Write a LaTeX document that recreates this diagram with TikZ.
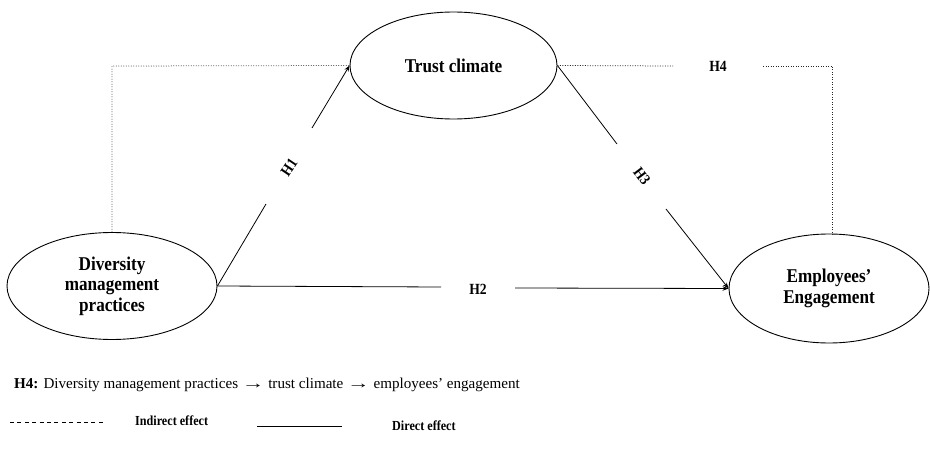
\documentclass[tikz,border=0pt]{standalone}
\usepackage{fontspec}
\setmainfont{Liberation Serif}
\newfontfamily\condfont[FakeStretch=0.88]{Liberation Serif}
\usetikzlibrary{shapes.geometric,arrows.meta}
\newcommand\myarrow{\scalebox{1.5}[1]{→}}
\tikzset{
  construct/.style={draw, ellipse, line width=0.9pt, inner sep=0pt, align=center,
    font=\condfont\bfseries\fontsize{19.5}{20.5}\selectfont},
  hlab/.style={inner sep=0pt, font=\condfont\bfseries\fontsize{15.5}{18}\selectfont},
  leglab/.style={inner sep=0pt, anchor=west, font=\condfont\bfseries\fontsize{13.8}{16}\selectfont},
  direct/.style={line width=0.8pt},
  arr/.style={direct, -{Stealth[length=6pt,width=4.5pt]}},
  indirect/.style={line width=0.75pt, dash pattern=on 0.8pt off 1.7pt, black!85},
}
\begin{document}
\begin{tikzpicture}[x=1pt,y=-1pt]
\useasboundingbox (0,0) rectangle (930,452);
% constructs
\node[construct, minimum width=207pt, minimum height=107pt] (trust) at (453.5,65.5) {Trust climate};
\node[construct, minimum width=210pt, minimum height=107pt] (dmp) at (112,286) {Diversity\\management\\practices};
\node[construct, minimum width=200pt, minimum height=109pt] (eng) at (829,288.5) {Employees’\\Engagement};
% gap coordinates
\coordinate (h1a) at (266,204);
\coordinate (h1b) at (312,128);
\coordinate (h3a) at (617,144);
\coordinate (h3b) at (666,209);
\coordinate (h2a) at (441,287);
\coordinate (h2b) at (515,288);
% labels
\node[hlab, rotate=56] (h1) at (289,167) {H1};
\node[hlab, rotate=-53] (h3) at (642,176) {H3};
\node[hlab] (h2) at (478,289) {H2};
\node[hlab] (h4) at (718,66) {H4};
% direct paths
\draw[direct] (dmp.east) -- (h1a);
\draw[arr] (h1b) -- (trust.west);
\draw[direct] (trust.east) -- (h3a);
\draw[arr] (h3b) -- (eng.west);
\draw[direct] (dmp.east) -- (h2a);
\draw[arr] (h2b) -- (eng.west);
% indirect path
\coordinate (c1) at (112,66);
\coordinate (c2) at (673,66);
\coordinate (c3) at (763,66);
\coordinate (c4) at (832,66);
\coordinate (c5) at (832,235);
\draw[indirect] (dmp.north) -- (c1) -- (trust.west);
\draw[indirect] (trust.east) -- (c2);
\draw[indirect] (c3) -- (c4) -- (c5);
% note
\node[inner sep=0pt, anchor=west, font=\fontsize{15.1}{18}\selectfont] (note) at (14,385)
  {\textbf{H4:} Diversity management practices \myarrow{} trust climate \myarrow{} employees’ engagement};
% legend
\coordinate (la) at (10,422);
\coordinate (lb) at (106,422);
\coordinate (lc) at (257,426);
\coordinate (ld) at (342,426);
\draw[line width=0.7pt, dash pattern=on 4pt off 3.4pt] (la) -- (lb);
\node[leglab] (lind) at (135,421) {Indirect effect};
\draw[direct] (lc) -- (ld);
\node[leglab] (ldir) at (392,426) {Direct effect};
\end{tikzpicture}
\end{document}
